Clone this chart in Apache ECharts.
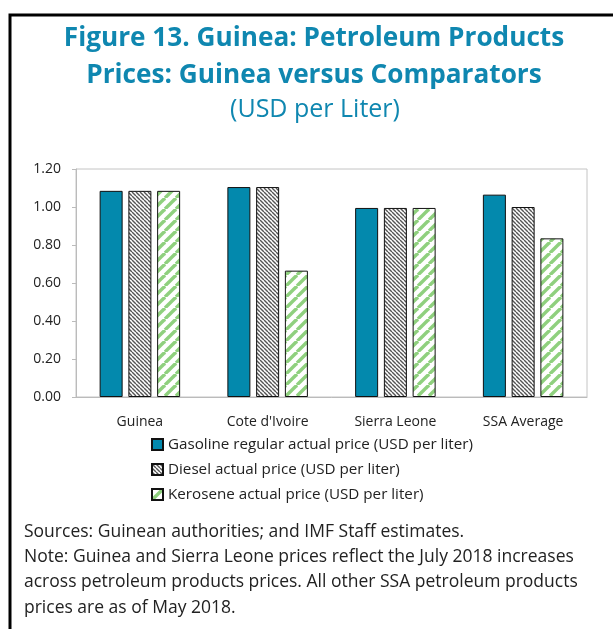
<!DOCTYPE html>
<html>
<head>
<meta charset="utf-8">
<script src="https://cdn.jsdelivr.net/npm/echarts@6/dist/echarts.min.js"></script>
<style>
  html, body { margin: 0; padding: 0; background: #fff; }
  #chart { width: 613px; height: 629px; }
</style>
</head>
<body>
<div id="chart"></div>
<script>
// data
var categories = ['Guinea', "Cote d'Ivoire", 'Sierra Leone', 'SSA Average'];
var gasoline = [1.085, 1.105, 0.995, 1.065];
var diesel = [1.085, 1.105, 0.995, 1.00];
var kerosene = [1.085, 0.665, 0.995, 0.835];
var seriesNames = [
    'Gasoline regular actual price (USD per liter)',
    'Diesel actual price (USD per liter)',
    'Kerosene actual price (USD per liter)'
];
var yTicks = [0, 1.2, 0.2]; // min, max, step

var font = '"Open Sans", "Noto Sans", sans-serif';

// hatch patterns
function stripes(size, color, lineW, dir) {
    var c = document.createElement('canvas');
    c.width = size; c.height = size;
    var ctx = c.getContext('2d');
    ctx.fillStyle = '#fff';
    ctx.fillRect(0, 0, size, size);
    ctx.strokeStyle = color;
    ctx.lineWidth = lineW;
    for (var k = -1; k <= 1; k++) {
        ctx.beginPath();
        if (dir === 'down') {
            ctx.moveTo(k * size, 0);
            ctx.lineTo(k * size + size, size);
        } else {
            ctx.moveTo(k * size, size);
            ctx.lineTo(k * size + size, 0);
        }
        ctx.stroke();
    }
    return c;
}
var dieselPat = { image: stripes(4, '#555', 1.4, 'down'), repeat: 'repeat' };
var keroPat = { image: stripes(11, '#8fd07e', 3.4, 'up'), repeat: 'repeat' };

var chart = echarts.init(document.getElementById('chart'));

var barBase = {
    type: 'bar',
    barWidth: 23,
    barGap: '25%'
};

var option = {
    animation: false,
    textStyle: { fontFamily: font },
    graphic: [
        {
            type: 'polyline',
            shape: { points: [[10, 629], [10, 15], [613, 15]] },
            style: { stroke: '#000', lineWidth: 3, fill: null }
        },
        {
            type: 'text', x: 314, y: 20,
            style: {
                text: 'Figure 13. Guinea: Petroleum Products\nPrices: Guinea versus Comparators',
                font: 'bold 26.2px ' + font, fill: '#0f87b0',
                textAlign: 'center', lineHeight: 37
            }
        },
        {
            type: 'text', x: 315, y: 97,
            style: { text: '(USD per Liter)', font: '25px ' + font, fill: '#0f87b0', textAlign: 'center' }
        },
        {
            type: 'text', left: 24, top: 519,
            style: {
                text: 'Sources: Guinean authorities; and IMF Staff estimates.\n' +
                    'Note: Guinea and Sierra Leone prices reflect the July 2018 increases\n' +
                    'across petroleum products prices. All other SSA petroleum products\n' +
                    'prices are as of May 2018.',
                font: '17.5px ' + font, fill: '#222', lineHeight: 25.3
            }
        }
    ],
    legend: {
        orient: 'vertical',
        left: 146, top: 432,
        icon: 'rect',
        itemWidth: 11, itemHeight: 11, itemGap: 10,
        textStyle: { fontSize: 15.2, color: '#222', fontFamily: font },
        data: seriesNames
    },
    grid: {
        left: 76, right: 26, top: 169, bottom: 232,
        show: true, borderColor: '#c4c4c4', borderWidth: 1
    },
    xAxis: {
        type: 'category',
        data: categories,
        axisLine: { lineStyle: { color: '#bbb' } },
        axisTick: { show: false },
        axisLabel: { fontSize: 14, color: '#222', margin: 18 }
    },
    yAxis: {
        type: 'value',
        min: yTicks[0], max: yTicks[1], interval: yTicks[2],
        axisLine: { show: true, lineStyle: { color: '#bbb' } },
        axisTick: { show: true, length: 4, lineStyle: { color: '#bbb' } },
        splitLine: { show: false },
        axisLabel: {
            fontSize: 14, color: '#222', margin: 15,
            formatter: function (v) { return v.toFixed(2); }
        }
    },
    series: [
        Object.assign({}, barBase, {
            name: seriesNames[0], data: gasoline,
            itemStyle: { color: '#0389ad', borderColor: '#111', borderWidth: 1 }
        }),
        Object.assign({}, barBase, {
            name: seriesNames[1], data: diesel,
            itemStyle: { color: dieselPat, borderColor: '#111', borderWidth: 1 }
        }),
        Object.assign({}, barBase, {
            name: seriesNames[2], data: kerosene,
            itemStyle: { color: keroPat, borderColor: '#111', borderWidth: 1 }
        })
    ]
};
chart.setOption(option);
</script>
</body>
</html>
